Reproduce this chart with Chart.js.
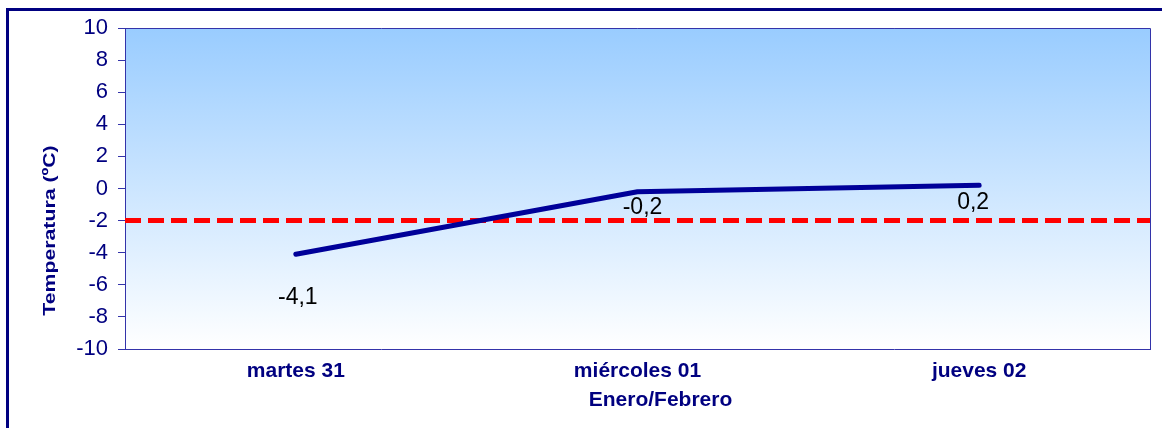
<!DOCTYPE html>
<html>
<head>
<meta charset="utf-8">
<script src="https://cdn.jsdelivr.net/npm/chart.js@4.4.0/dist/chart.umd.min.js"></script>
<style>
    html, body { margin: 0; padding: 0; background: #fff; overflow: hidden; }
</style>
</head>
<body>
<canvas id="chartjs" width="1162" height="428"></canvas>
<script>
// values
const days = ['martes 31', 'miércoles 01', 'jueves 02'];
const temps = [-4.1, -0.2, 0.2];
const yTicks = [10, 8, 6, 4, 2, 0, -2, -4, -6, -8, -10];
const threshold = -2;
const xTitle = 'Enero/Febrero';
const yTitle = 'Temperatura (ºC)';

// where the value labels sit relative to their point (dx, dy)
const labelShift = [[2, 43], [5, 16], [-6, 17]];

const fontFamily = '"Liberation Sans", Arial, sans-serif';
const navy = '#000080';
const frameColor = '#3333aa';

const decor = {
    id: 'decor',
    beforeDraw(chart) {
        const { ctx, chartArea: a } = chart;
        ctx.save();
        let g = ctx.createLinearGradient(0, a.top, 0, a.bottom);
        g.addColorStop(0, '#99ccff');
        g.addColorStop(1, '#ffffff');
        ctx.fillStyle = g;
        ctx.fillRect(a.left, a.top, a.right - a.left, a.bottom - a.top);

        // outer frame of the chart object (runs off the right/bottom of the shot)
        ctx.strokeStyle = navy;
        ctx.lineWidth = 3;
        ctx.beginPath();
        ctx.moveTo(7.5, chart.height);
        ctx.lineTo(7.5, 9.5);
        ctx.lineTo(chart.width, 9.5);
        ctx.stroke();
        ctx.restore();
    },
    beforeDatasetsDraw(chart) {
        const { ctx, chartArea: a, scales } = chart;
        ctx.save();
        // top and right edges of the plot box
        ctx.strokeStyle = frameColor;
        ctx.lineWidth = 1;
        ctx.beginPath();
        ctx.moveTo(a.left, a.top + 0.5);
        ctx.lineTo(a.right + 0.5, a.top + 0.5);
        ctx.lineTo(a.right + 0.5, a.bottom);
        ctx.stroke();

        // red dashed limit line
        let py = scales.y.getPixelForValue(threshold);
        ctx.strokeStyle = '#ff0000';
        ctx.lineWidth = 5;
        ctx.setLineDash([16, 7]);
        ctx.beginPath();
        ctx.moveTo(a.left, py);
        ctx.lineTo(a.right, py);
        ctx.stroke();
        ctx.restore();
    },
    afterDatasetsDraw(chart) {
        const { ctx, chartArea: a } = chart;
        const meta = chart.getDatasetMeta(0);
        ctx.save();
        ctx.textAlign = 'center';
        ctx.textBaseline = 'middle';
        ctx.fillStyle = '#000';
        ctx.font = '23px ' + fontFamily;
        meta.data.forEach((pt, i) => {
            let txt = temps[i].toFixed(1).replace('.', ',');
            ctx.fillText(txt, pt.x + labelShift[i][0], pt.y + labelShift[i][1]);
        });

        // axis titles
        ctx.fillStyle = navy;
        ctx.font = 'bold 21px ' + fontFamily;
        ctx.fillText(xTitle, (a.left + a.right) / 2 + 23, a.bottom + 51);

        // the y title looks stretched along its length in the original
        ctx.translate(50, (a.top + a.bottom) / 2 + 42);
        ctx.rotate(-Math.PI / 2);
        ctx.scale(1.25, 1);
        ctx.font = 'bold 17px ' + fontFamily;
        ctx.fillText(yTitle, 0, 0);
        ctx.restore();
    }
};

let tempChart = new Chart(document.getElementById('chartjs').getContext('2d'), {
    type: 'line',
    data: {
        labels: days,
        datasets: [{
            label: 'Temperatura',
            data: temps,
            borderColor: '#000099',
            borderWidth: 5,
            borderCapStyle: 'round',
            borderJoinStyle: 'round',
            pointRadius: 0,
            tension: 0,
            fill: false,
        }]
    },
    options: {
        responsive: false,
        animation: false,
        layout: { padding: { top: 28, right: 12, left: 0, bottom: 0 } },
        plugins: {
            legend: { display: false },
            tooltip: { enabled: false }
        },
        scales: {
            x: {
                offset: true,
                grid: { display: false, drawTicks: false },
                border: { display: true, color: frameColor, width: 1 },
                ticks: {
                    color: navy,
                    padding: 10,
                    maxRotation: 0,
                    font: { family: fontFamily, size: 21, weight: 'bold' }
                },
                afterFit: (s) => { s.height = 79; }
            },
            y: {
                min: -10,
                max: 10,
                afterBuildTicks: (s) => { s.ticks = yTicks.map(v => ({ value: v })); },
                grid: { display: true, drawOnChartArea: false, drawTicks: true, tickLength: 7, color: frameColor },
                border: { display: true, color: frameColor, width: 1 },
                ticks: {
                    color: navy,
                    padding: 10,
                    font: { family: fontFamily, size: 22 }
                },
                afterFit: (s) => { s.width = 125; }
            }
        }
    },
    plugins: [decor]
});
</script>
</body>
</html>
